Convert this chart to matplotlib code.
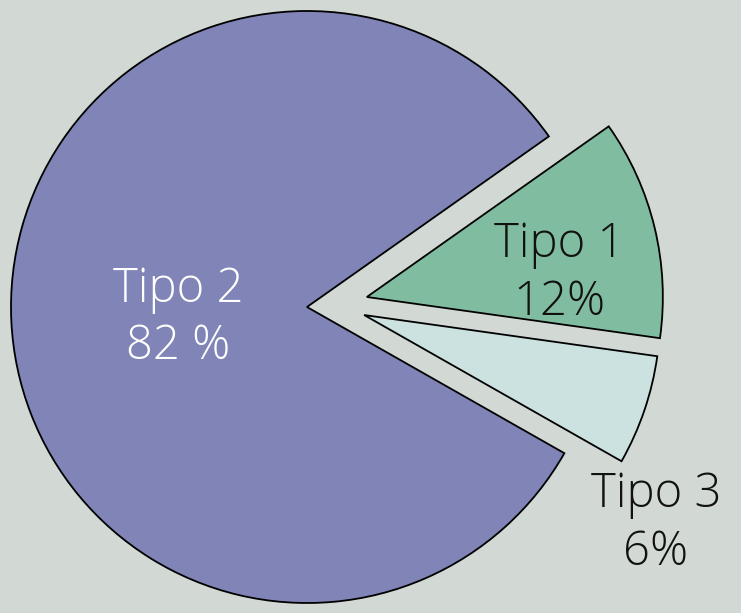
import numpy as np
import matplotlib
matplotlib.use("Agg")
import matplotlib.pyplot as plt

categories = ["Tipo 1", "Tipo 2", "Tipo 3"]
values = [12, 82, 6]
pct_labels = ["12%", "82 %", "6%"]

colors = ["#80bda0", "#8084b6", "#cbe2e0"]
text_colors = ["#111111", "#ffffff", "#111111"]
# wedge offset (distance in radii, direction in degrees)
offsets = [(0.205, 9.5), (0.0, 0.0), (0.195, -8.0)]
# label placement (distance from wedge apex in radii, angle in degrees)
label_pos = [(0.655, 6.8), (0.438, 185.0), (1.212, -35.6)]

W, H = 741, 613
fig = plt.figure(figsize=(W / 100, H / 100), dpi=100)
bg = "#d2d8d4"
fig.patch.set_facecolor(bg)
ax = fig.add_axes([0, 0, 1, 1])
ax.set_facecolor(bg)

wedges, _ = ax.pie(values, colors=colors, startangle=-8,
                   counterclock=True, radius=1.0, center=(0, 0),
                   wedgeprops=dict(edgecolor="black", linewidth=1.3))

for w, cat, pct, tc, (d, da), (r, ang) in zip(wedges, categories, pct_labels,
                                              text_colors, offsets, label_pos):
    cx = d * np.cos(np.radians(da))
    cy = d * np.sin(np.radians(da))
    w.set_center((cx, cy))
    x = cx + r * np.cos(np.radians(ang))
    y = cy + r * np.sin(np.radians(ang))
    ax.text(x, y, f"{cat}\n{pct}", ha="center", va="center", color=tc,
            fontsize=34, family="Open Sans", fontweight="light", linespacing=1.25)

cxp, cyp, R = 307, 307, 296
ax.set_xlim(-cxp / R, (W - cxp) / R)
ax.set_ylim(-(H - cyp) / R, cyp / R)
ax.set_aspect("auto")
ax.axis("off")

fig.savefig("out.png", dpi=100, facecolor=bg)
